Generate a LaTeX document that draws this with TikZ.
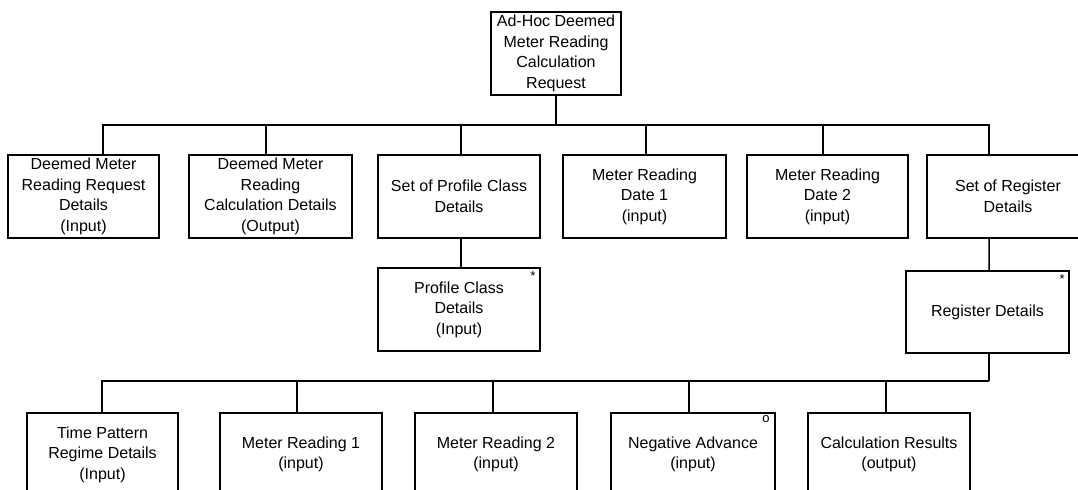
\documentclass[tikz,border=0pt]{standalone}
\usepackage{fontspec}
\setmainfont{Liberation Sans}
\begin{document}
\begin{tikzpicture}[x=1bp,y=-1bp,
  box/.style={draw, line width=1.5bp, rectangle, align=center, inner sep=0pt,
    minimum width=162bp, minimum height=83bp,
    font=\fontsize{16bp}{20.5bp}\selectfont},
  wire/.style={line width=1.5bp},
  tag/.style={anchor=north east, inner sep=0pt, font=\fontsize{13bp}{13bp}\selectfont}]
\useasboundingbox (0,0) rectangle (1078,490);
\clip (0,0) rectangle (1078,490);
\fill[white] (0,0) rectangle (1078,490);

% root
\node[box, minimum width=130bp] (top) at (556,53.5) {Ad-Hoc Deemed\\Meter Reading\\Calculation\\Request};

% first level
\node[box, minimum width=151bp] (b1) at (83.5,196.5) {Deemed Meter\\Reading Request\\Details\\(Input)};
\node[box, minimum width=163bp] (b2) at (270.5,196.5) {Deemed Meter\\Reading\\Calculation Details\\(Output)};
\node[box] (b3) at (459,196.5) {Set of Profile Class\\Details};
\node[box, minimum width=163bp] (b4) at (644.5,196.5) {Meter Reading\\Date 1\\(input)};
\node[box, minimum width=161bp] (b5) at (827.5,196.5) {Meter Reading\\Date 2\\(input)};
\node[box] (b6) at (1008,196.5) {Set of Register\\Details};

% second level
\node[box] (pc) at (459,309.5) {Profile Class\\Details\\(Input)};
\node[tag] at ([xshift=-5bp,yshift=-4bp]pc.north east) {*};
\node[box, minimum width=163bp, minimum height=82bp] (rd) at (987.5,312) {Register Details};
\node[tag] at ([xshift=-5bp,yshift=-4bp]rd.north east) {*};

% register children
\node[box, minimum width=151bp] (tp) at (102.5,454.5) {Time Pattern\\Regime Details\\(Input)};
\node[box] (mr1) at (301,454.5) {Meter Reading 1\\(input)};
\node[box] (mr2) at (496,454.5) {Meter Reading 2\\(input)};
\node[box, minimum width=164bp] (na) at (693,454.5) {Negative Advance\\(input)};
\node[tag] at ([xshift=-6bp,yshift=-3bp]na.north east) {o};
\node[box] (cr) at (889,454.5) {Calculation Results\\(output)};

% connectors from the root
\coordinate (hub1) at (556,125);
\draw[wire] (top.south) -- (hub1);
\draw[wire] (hub1) -| ([xshift=19.5bp]b1.north);
\draw[wire] (hub1) -| ([xshift=-4.5bp]b2.north);
\draw[wire] (hub1) -| ([xshift=2bp]b3.north);
\draw[wire] (hub1) -| ([xshift=1.5bp]b4.north);
\draw[wire] (hub1) -| ([xshift=-4.5bp]b5.north);
\draw[wire] (hub1) -| ([xshift=-19bp]b6.north);

% set members
\draw[wire] ([xshift=2bp]b3.south) -- ([xshift=2bp]pc.north);
\draw[wire] ([xshift=-19bp]b6.south) -- ([xshift=1.5bp]rd.north);

% register details children
\coordinate (hub2) at (989,381);
\draw[wire] ([xshift=1.5bp]rd.south) -- (hub2);
\draw[wire] (hub2) -| ([xshift=-0.5bp]tp.north);
\draw[wire] (hub2) -| ([xshift=-4bp]mr1.north);
\draw[wire] (hub2) -| ([xshift=-3bp]mr2.north);
\draw[wire] (hub2) -| ([xshift=-4bp]na.north);
\draw[wire] (hub2) -| ([xshift=-3bp]cr.north);
\end{tikzpicture}
\end{document}
